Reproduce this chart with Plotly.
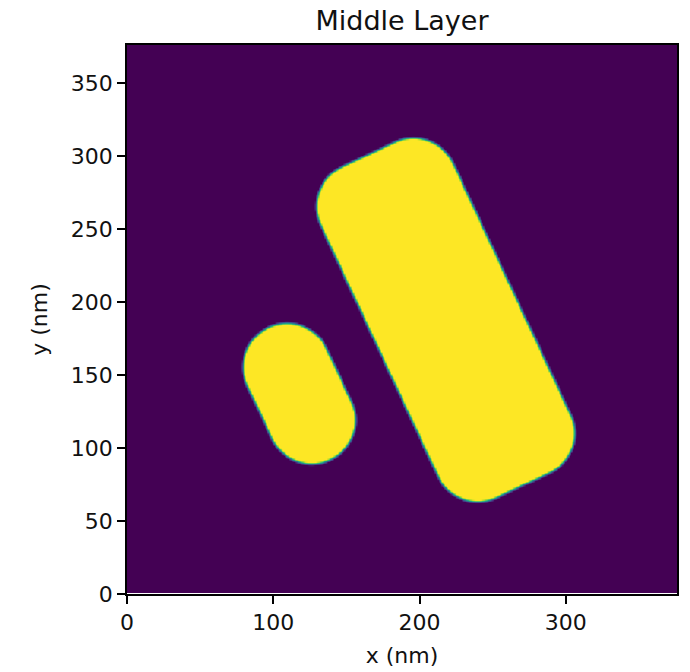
import numpy as np
import plotly.graph_objects as go

# Two rounded rectangles in the middle layer (all lengths in nm)
shape_cx = [117.5, 217.5]          # centre x
shape_cy = [137.5, 188.0]          # centre y
shape_width = [60.0, 100.0]        # short side
shape_length = [100.0, 250.0]      # long side
shape_tilt_deg = [25.0, 25.0]      # long axis tilt from vertical (towards -x)
shape_corner_r = [30.0, 30.0]      # corner radius

# Sampling grid (1 nm cells)
grid_nx = 376
grid_ny = 375
grid_x0 = 0.5
grid_y0 = 1.5
edge_width = 2.0                   # soft edge of the material mask

x_ticks = [0, 100, 200, 300]
y_ticks = [0, 50, 100, 150, 200, 250, 300, 350]

xs = grid_x0 + np.arange(grid_nx)
ys = grid_y0 + np.arange(grid_ny)
X, Y = np.meshgrid(xs, ys)


def rounded_box_sdf(cx, cy, w, l, tilt, r):
    t = np.deg2rad(tilt)
    dx, dy = X - cx, Y - cy
    u = dx * np.cos(t) + dy * np.sin(t)
    v = -dx * np.sin(t) + dy * np.cos(t)
    qx = np.abs(u) - (w / 2 - r)
    qy = np.abs(v) - (l / 2 - r)
    outside = np.hypot(np.maximum(qx, 0), np.maximum(qy, 0))
    inside = np.minimum(np.maximum(qx, qy), 0)
    return outside + inside - r


Z = np.zeros_like(X)
for cx, cy, w, l, tilt, r in zip(shape_cx, shape_cy, shape_width,
                                 shape_length, shape_tilt_deg, shape_corner_r):
    d = rounded_box_sdf(cx, cy, w, l, tilt, r)
    Z = np.maximum(Z, np.clip(0.5 - d / edge_width, 0, 1))

font_family = "DejaVu Sans"
text_color = "#111111"

fig = go.Figure(
    go.Heatmap(
        z=Z, x0=grid_x0, dx=1, y0=grid_y0, dy=1,
        colorscale="Viridis", zmin=0, zmax=1,
        showscale=False, zsmooth="best", hoverinfo="skip",
    )
)

axis_common = dict(
    showline=True, linecolor="black", linewidth=1.8, mirror=True,
    ticks="outside", ticklen=8, tickwidth=1.8, tickcolor="black",
    showgrid=False, zeroline=False, automargin=False,
    tickfont=dict(family=font_family, size=22, color=text_color),
)

fig.update_layout(
    width=690, height=672,
    margin=dict(l=127, r=13, t=45, b=78),
    paper_bgcolor="white", plot_bgcolor="white",
    title=dict(
        text="Middle Layer", x=0.5, xref="paper", xanchor="center",
        y=1 - 21 / 672, yref="container", yanchor="middle",
        font=dict(family=font_family, size=27, color=text_color),
    ),
    xaxis=dict(
        range=[0, 376], tickvals=x_ticks, ticklabelstandoff=0,
        title=dict(text="x (nm)", standoff=13,
                   font=dict(family=font_family, size=22, color=text_color)),
        **axis_common,
    ),
    yaxis=dict(
        range=[0, 376], tickvals=y_ticks,
        title=dict(text="y (nm)", standoff=17,
                   font=dict(family=font_family, size=22, color=text_color)),
        **axis_common,
    ),
)

fig.write_html("out.html")
